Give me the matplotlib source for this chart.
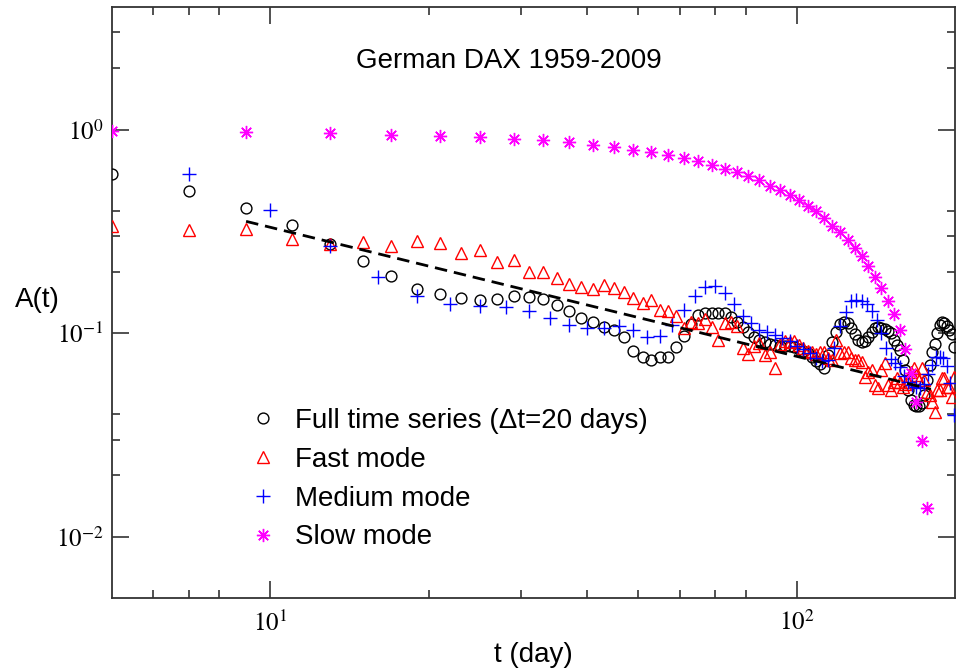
import matplotlib
matplotlib.use('Agg')
import matplotlib.pyplot as plt
from matplotlib.ticker import NullFormatter

plt.rcParams['font.family'] = ['Liberation Sans', 'DejaVu Sans']
plt.rcParams['mathtext.fontset'] = 'stix'

# ---------------- data ----------------
t_full = [5, 7, 9, 11, 13, 15, 17, 19, 21, 23, 25, 27, 29, 31, 33, 35, 37, 39, 41, 43,
          45, 47, 49, 51, 53, 55, 57, 59, 61, 63, 65, 67, 69, 71, 73, 75, 77, 79, 81, 83,
          85, 87, 89, 91, 93, 95, 97, 99, 101, 103, 105, 107, 109, 111, 113, 115, 117, 119, 121, 123,
          125, 127, 129, 131, 133, 135, 137, 139, 141, 143, 145, 147, 149, 151, 153, 155, 157, 159, 161, 163,
          165, 167, 169, 171, 173, 175, 177, 179, 181, 183, 185, 187, 189, 191, 193, 195, 197, 199]

a_full = [0.605, 0.50, 0.41, 0.34, 0.275, 0.226, 0.19, 0.165, 0.155, 0.149,
          0.145, 0.147, 0.152, 0.151, 0.147, 0.138, 0.129, 0.1185, 0.113, 0.107,
          0.104, 0.096, 0.082, 0.076, 0.074, 0.076, 0.076, 0.085, 0.097, 0.111,
          0.123, 0.125, 0.126, 0.126, 0.125, 0.120, 0.114, 0.107, 0.101, 0.096,
          0.093, 0.090, 0.0884, 0.0873, 0.0866, 0.0866, 0.086, 0.085, 0.0837, 0.0818,
          0.0796, 0.0761, 0.0731, 0.0702, 0.0675, 0.078, 0.0906, 0.1015, 0.1105, 0.1138,
          0.1123, 0.1062, 0.0992, 0.0927, 0.0906, 0.0917, 0.0953, 0.1015, 0.1056, 0.1073,
          0.106, 0.105, 0.1029, 0.1003, 0.0927, 0.0876, 0.0823, 0.0739, 0.066, 0.0526,
          0.047, 0.0444, 0.0439, 0.044, 0.0452, 0.0497, 0.0589, 0.0698, 0.0809, 0.0886,
          0.1003, 0.1099, 0.113, 0.1115, 0.1086, 0.1038, 0.0992, 0.0856]

a_fast = [0.334, 0.322, 0.325, 0.290, 0.275, 0.280, 0.269, 0.285, 0.277, 0.247,
          0.255, 0.2225, 0.228, 0.1995, 0.1995, 0.186, 0.175, 0.168, 0.165, 0.173,
          0.1665, 0.160, 0.1486, 0.1405, 0.1458, 0.130, 0.1287, 0.1207, 0.1058, 0.114,
          0.1125, 0.117, 0.107, 0.0927, 0.1125, 0.114, 0.1078, 0.0844, 0.0791, 0.0866,
          0.0893, 0.0782, 0.0804, 0.0673, 0.0886, 0.0910, 0.0906, 0.0910, 0.0871, 0.0847,
          0.0818, 0.0804, 0.0791, 0.0812, 0.0809, 0.0753, 0.0739, 0.0927, 0.0800, 0.0809,
          0.0812, 0.0753, 0.0739, 0.0739, 0.0725, 0.0612, 0.0645, 0.0660, 0.0557, 0.0538,
          0.0660, 0.0712, 0.0557, 0.0526, 0.0576, 0.0601, 0.0576, 0.0546, 0.0563, 0.0578,
          0.0645, 0.0673, 0.0624, 0.0589, 0.0673, 0.0589, 0.0516, 0.0497, 0.0459, 0.0411,
          0.0526, 0.0526, 0.0601, 0.0603, 0.0546, 0.0546, 0.0488, 0.0612]

t_medium = [7, 10, 13, 16, 19, 22, 25, 28, 31, 34, 37, 40, 43, 46, 49, 52, 55, 58, 61, 64,
            67, 70, 73, 76, 79, 82, 85, 88, 91, 94, 97, 100, 103, 106, 109, 112, 115, 118, 121, 124,
            127, 130, 133, 136, 139, 142, 145, 148, 151, 154, 157, 160, 163, 166, 169, 172, 175, 178, 181, 184,
            187, 190, 193, 196, 199]

a_medium = [0.607, 0.404, 0.267, 0.188, 0.153, 0.139, 0.136, 0.134, 0.129, 0.119,
            0.110, 0.106, 0.106, 0.108, 0.103, 0.0956, 0.097, 0.109, 0.130, 0.153,
            0.168, 0.170, 0.158, 0.139, 0.122, 0.112, 0.104, 0.1015, 0.098, 0.0948,
            0.0917, 0.0866, 0.0832, 0.080, 0.0756, 0.0731, 0.0739, 0.0847, 0.108, 0.127,
            0.143, 0.145, 0.144, 0.139, 0.129, 0.116, 0.100, 0.0844, 0.0747, 0.0712,
            0.0679, 0.0617, 0.0576, 0.0557, 0.0546, 0.0536, 0.0563, 0.0631, 0.0698, 0.0764,
            0.0764, 0.0753, 0.069, 0.0568, 0.0396]

t_slow = [5, 9, 13, 17, 21, 25, 29, 33, 37, 41, 45, 49, 53, 57, 61, 65, 69, 73, 77, 81,
          85, 89, 93, 97, 101, 105, 109, 113, 117, 121, 125, 129, 133, 137, 141, 145, 149, 153, 157, 161,
          165, 169, 173, 177]

a_slow = [0.989, 0.974, 0.959, 0.945, 0.934, 0.924, 0.900, 0.886, 0.866, 0.844,
          0.822, 0.797, 0.773, 0.753, 0.726, 0.698, 0.673, 0.643, 0.619, 0.589,
          0.563, 0.530, 0.507, 0.479, 0.4525, 0.423, 0.3995, 0.368, 0.337, 0.3125,
          0.288, 0.262, 0.238, 0.213, 0.1886, 0.1665, 0.1446, 0.124, 0.103, 0.0834,
          0.064, 0.0461, 0.0296, 0.0138]

t_fit = [9, 180]
a_fit = [0.354, 0.053]

labels = ["Full time series (\u0394t=20 days)", "Fast mode", "Medium mode", "Slow mode"]
title_text = "German DAX 1959-2009"

x_major = [10, 100]
x_major_labels = [r"$10^{1}$", r"$10^{2}$"]
x_minor = [6, 7, 8, 20, 30, 40, 50, 60, 70, 80]
y_major = [0.01, 0.1, 1]
y_major_labels = [r"$10^{-2}$", r"$10^{-1}$", r"$10^{0}$"]
y_minor = [0.02, 0.03, 0.04, 0.2, 0.3, 0.4, 2, 3]

# ---------------- figure ----------------
fig = plt.figure(figsize=(9.59, 6.70), dpi=100)
ax = fig.add_axes([0.1165, 0.1075, 0.8793, 0.8821])
ax.set_xscale('log')
ax.set_yscale('log')

ax.plot(t_full, a_full, ls='none', marker='o', ms=7.8, mfc='none', mec='black',
        mew=1.0, label=labels[0], zorder=3)
ax.plot(t_full, a_fast, ls='none', marker='^', ms=9, mfc='none', mec='#ff0000',
        mew=1.0, label=labels[1], zorder=3)
ax.plot(t_medium, a_medium, ls='none', marker='+', ms=10, mec='#0000ff',
        mew=1.0, label=labels[2], zorder=3)
ax.plot(t_slow, a_slow, ls='none', marker=(8, 2, 0), ms=9.5, mec='#ff00ff',
        mew=1.0, label=labels[3], zorder=3)
ax.plot(t_fit, a_fit, ls=(0, (4.5, 2.5)), color='black', lw=2.0, zorder=4)

ax.set_xlim(5, 200)
ax.set_ylim(0.005, 4)

ax.set_xticks(x_major, labels=x_major_labels)
ax.set_xticks(x_minor, minor=True)
ax.set_yticks(y_major, labels=y_major_labels)
ax.set_yticks(y_minor, minor=True)
ax.xaxis.set_minor_formatter(NullFormatter())
ax.yaxis.set_minor_formatter(NullFormatter())

ax.tick_params(which='both', direction='in', top=True, right=True,
               color='#333333', width=1.2, labelsize=18)
ax.tick_params(which='major', length=12)
ax.tick_params(which='minor', length=6)
ax.tick_params(axis='x', pad=9)
ax.tick_params(axis='y', pad=6)
for s in ax.spines.values():
    s.set_color('#333333')
    s.set_linewidth(1.3)

ax.set_xlabel("t (day)", fontsize=20)
ax.set_ylabel("A(t)", fontsize=20, rotation=0, va='center', ha='center')
ax.xaxis.set_label_coords(0.5, -0.075)
ax.yaxis.set_label_coords(-0.088, 0.504)

ax.text(0.4705, 0.909, title_text, transform=ax.transAxes, fontsize=20,
        ha='center', va='center')

leg = ax.legend(loc='upper left', bbox_to_anchor=(0.163, 0.3215), frameon=False,
                fontsize=20, handlelength=1.0, handletextpad=0.65,
                labelspacing=0.46, borderpad=0, borderaxespad=0, numpoints=1)

fig.savefig('out.png', dpi=100)
